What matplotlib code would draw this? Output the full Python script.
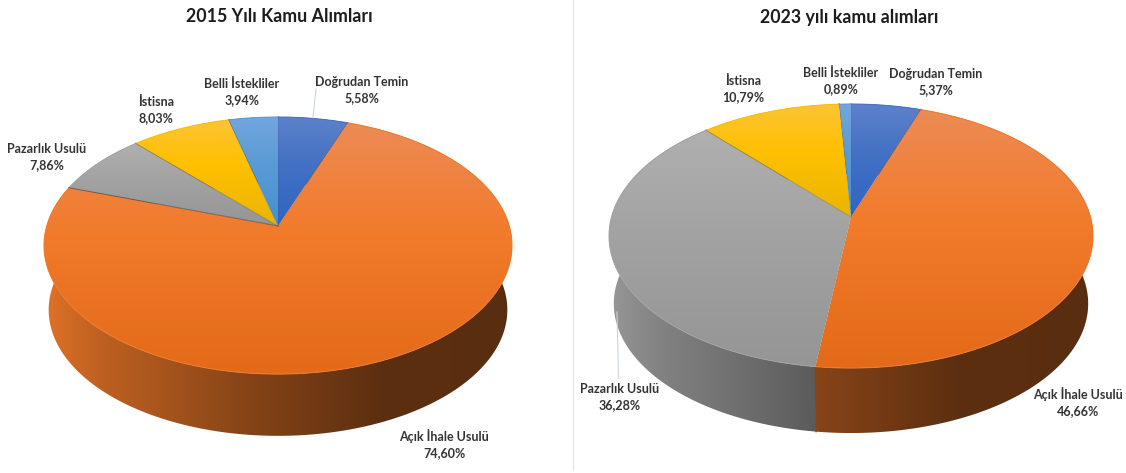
#!/usr/bin/env python3
"""Two perspective pie charts of public procurement shares, 2015 vs 2023.
Everything is laid out in pixel coordinates on one full-figure axes."""
import numpy as np
import matplotlib
matplotlib.use("Agg")
import matplotlib.pyplot as plt
from matplotlib.patches import Polygon

plt.rcParams["font.family"] = ["Lato", "DejaVu Sans"]

W, H = 1126, 473
INK = "#333333"

CATEGORIES = ["Doğrudan Temin", "Açık İhale Usulü", "Pazarlık Usulü", "İstisna", "Belli İstekliler"]
VALUES_2015 = [5.58, 74.60, 7.86, 8.03, 3.94]
VALUES_2023 = [5.37, 46.66, 36.28, 10.79, 0.89]
TITLE_2015 = "2015 Yılı Kamu Alımları"
TITLE_2023 = "2023 yılı kamu alımları"

# light / mid / dark stops of each slice's top face
TOP_COLORS = [
    ("#5E82CB", "#4472C4", "#2F64C2"),
    ("#EC8B55", "#F27B2C", "#E26A19"),
    ("#B0B0B0", "#A3A3A3", "#959595"),
    ("#FCC437", "#FFC000", "#E9B502"),
    ("#74A6DD", "#5B9BD5", "#4690D2"),
]
WALL_BASE = ["#4472C4", "#F07A2A", "#A2A2A2", "#FFC000", "#5B9BD5"]
# darkening across the pie width, left edge to right edge
SHADE_X = [0.0, 0.04, 0.12, 0.25, 0.43, 0.72, 1.0]
SHADE_Y = [0.94, 0.88, 0.79, 0.70, 0.56, 0.385, 0.37]


def rgb(c):
    return np.array(matplotlib.colors.to_rgb(c))


def project(pie, theta, r=1.0, bottom=False):
    """Disc polar coords (clockwise from the far side) to screen pixels."""
    X, Y = r * np.sin(theta), r * np.cos(theta)
    w = 1 + pie["k"] * Y
    s = pie["floor_scale"] if bottom else 1.0
    dy = pie["depth"] if bottom else 0.0
    return pie["cx"] + s * pie["b"] * X / w, pie["cy"] + dy - s * pie["a"] * Y / w


def fill_gradient(ax, poly_xy, img, extent, zorder):
    patch = Polygon(poly_xy, closed=True, fc="none", ec="none", zorder=zorder)
    ax.add_patch(patch)
    im = ax.imshow(img, extent=extent, aspect="auto", interpolation="bilinear", zorder=zorder)
    im.set_clip_path(patch)


def draw_pie(ax, pie, values, seam_alpha):
    cum = np.cumsum([0] + list(values)) / sum(values) * 2 * np.pi

    # side wall first, the top face covers whatever lies behind it
    xl, xr = pie["cx"] - pie["rx"], pie["cx"] + pie["rx"]
    fx = np.linspace(0, 1, 300)
    shade = np.interp(fx, SHADE_X, SHADE_Y)
    for i in range(len(values)):
        t = np.linspace(cum[i], cum[i + 1], 200)
        x0, y0 = project(pie, t)
        x1, y1 = project(pie, t, bottom=True)
        poly = np.r_[np.c_[x0, y0], np.c_[x1, y1][::-1]]
        img = (shade[:, None] * rgb(WALL_BASE[i]))[None, :, :]
        fill_gradient(ax, poly, img, (xl, xr, H, 0), 2 + i * 0.01)
        # close the hairline gap where two wall pieces meet
        f = (x0[-1] - xl) / (xr - xl)
        ax.plot([x0[-1], x1[-1]], [y0[-1], y1[-1]], lw=1.0, zorder=2.5,
                color=np.interp(f, SHADE_X, SHADE_Y) * rgb(WALL_BASE[i]))

    # top face slices, vertical gradient over each slice's own height
    for i, (c0, c1, c2) in enumerate(TOP_COLORS):
        t = np.linspace(cum[i], cum[i + 1], 200)
        x, y = project(pie, t)
        poly = np.r_[[[pie["cx"], pie["cy"]]], np.c_[x, y]]
        ya, yb = poly[:, 1].min(), poly[:, 1].max()
        fy = np.linspace(0, 1, 200)
        stops = np.array([rgb(c0), rgb(c1), rgb(c2)])
        img = np.stack([np.interp(fy, [0, 0.42, 1], stops[:, j]) for j in range(3)], axis=1)[:, None, :]
        fill_gradient(ax, poly, img, (poly[:, 0].min(), poly[:, 0].max(), yb, ya), 3 + i * 0.01)
        ax.plot(x, y, color=c1, lw=0.7, zorder=3.5)

    # thin dark seams between slices
    for a, alpha in zip(cum[:-1], seam_alpha):
        x, y = project(pie, np.array([a]))
        ax.plot([pie["cx"], x[0]], [pie["cy"], y[0]], color="#3C3C3C", lw=0.7, alpha=alpha, zorder=4)


def label_pie(ax, positions, values):
    for name, val, (x, y) in zip(CATEGORIES, values, positions):
        text = f"{name}\n{val:.2f}%".replace(".", ",")
        ax.text(x, y, text, ha="center", va="center", fontsize=9.0, fontweight="bold",
                color=INK, linespacing=1.35, zorder=6)


fig = plt.figure(figsize=(W / 100, H / 100), dpi=100, facecolor="white")
ax = fig.add_axes([0, 0, 1, 1])
ax.axis("off")

PIE_2015 = dict(cx=278, cy=226, rx=234, a=125.6, b=231.3, k=0.152, depth=64.7, floor_scale=0.98)
PIE_2023 = dict(cx=851, cy=217, rx=242, a=129.3, b=239.5, k=0.144, depth=68.0, floor_scale=0.98)

draw_pie(ax, PIE_2015, VALUES_2015, [0.1, 0.15, 0.6, 0.35, 0.2])
draw_pie(ax, PIE_2023, VALUES_2023, [0.05, 0.1, 0.05, 0.3, 0.1])

label_pie(ax, [(362, 90), (444, 444), (47, 157), (156, 110), (242, 92)], VALUES_2015)
label_pie(ax, [(936, 82), (1078, 402), (620, 397), (743.5, 89), (841, 81)], VALUES_2023)

ax.text(279, 16, TITLE_2015, ha="center", va="center", fontsize=12.8, fontweight="bold", color="#1C1C1C")
ax.text(849, 18, TITLE_2023, ha="center", va="center", fontsize=12.8, fontweight="bold", color="#1C1C1C")

# leader lines and the panel divider
ax.plot([313, 316], [117, 89], color="#C9D5E2", lw=0.8, zorder=1)
ax.plot([617, 618.5], [312, 378], color="#C9D5E2", lw=0.8, zorder=5)
ax.plot([573, 573], [0, 470], color="#E6E6E6", lw=1.0, zorder=1)

ax.set_xlim(0, W)
ax.set_ylim(H, 0)
fig.savefig("out.png", dpi=100, facecolor="white")
